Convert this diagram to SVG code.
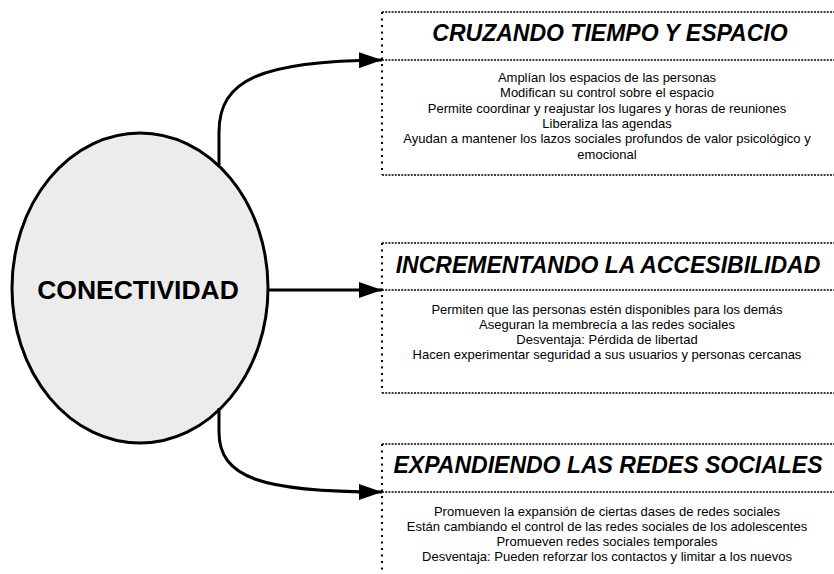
<svg xmlns="http://www.w3.org/2000/svg" width="834" height="574" viewBox="0 0 834 574">
<defs>
<marker id="ah" markerWidth="23" markerHeight="16" refX="23" refY="8" markerUnits="userSpaceOnUse" orient="auto">
<path d="M0,0 L23,8 L0,16 Z" fill="#000"/>
</marker>
<style>
.h{stroke:#000;stroke-width:1.6;stroke-dasharray:2 1.2;fill:none}
.v{stroke:#000;stroke-width:2;stroke-dasharray:2 4.5;fill:none}
.t{font-family:"Liberation Sans",Arial,sans-serif;font-size:23px;font-weight:bold;font-style:italic;text-anchor:middle;fill:#000}
.b{font-family:"Liberation Sans",Arial,sans-serif;font-size:13px;text-anchor:middle;fill:#000}
.c{stroke:#000;stroke-width:3;fill:none}
</style>
</defs>
<rect width="834" height="574" fill="#fff"/>
<g id="conectividad">
<ellipse cx="140" cy="288" rx="128" ry="155" fill="#ececec" stroke="#000" stroke-width="3"/>
<text x="138" y="299" font-family="'Liberation Sans',Arial,sans-serif" font-size="26.5" font-weight="bold" text-anchor="middle">CONECTIVIDAD</text>
</g>
<g id="box1">
<line class="h" x1="382" y1="12" x2="860" y2="12"/>
<line class="h" x1="382" y1="60" x2="860" y2="60"/>
<line class="h" x1="382" y1="175" x2="860" y2="175"/>
<line class="v" x1="382" y1="12" x2="382" y2="175"/>
<text class="t" x="610" y="41">CRUZANDO TIEMPO Y ESPACIO</text>
<text class="b" x="607" y="82">Amplían los espacios de las personas</text>
<text class="b" x="607" y="97">Modifican su control sobre el espacio</text>
<text class="b" x="607" y="113">Permite coordinar y reajustar los lugares y horas de reuniones</text>
<text class="b" x="607" y="128">Liberaliza las agendas</text>
<text class="b" x="607" y="143">Ayudan a mantener los lazos sociales profundos de valor psicológico y</text>
<text class="b" x="607" y="159">emocional</text>
</g>
<g id="box2">
<line class="h" x1="382" y1="243" x2="860" y2="243"/>
<line class="h" x1="382" y1="290" x2="860" y2="290"/>
<line class="h" x1="382" y1="393" x2="860" y2="393"/>
<line class="v" x1="382" y1="243" x2="382" y2="393"/>
<text class="t" x="608" y="273">INCREMENTANDO LA ACCESIBILIDAD</text>
<text class="b" x="607" y="314">Permiten que las personas estén disponibles para los demás</text>
<text class="b" x="607" y="329">Aseguran la membrecía a las redes sociales</text>
<text class="b" x="607" y="344">Desventaja: Pérdida de libertad</text>
<text class="b" x="607" y="359">Hacen experimentar seguridad a sus usuarios y personas cercanas</text>
</g>
<g id="box3">
<line class="h" x1="382" y1="444" x2="860" y2="444"/>
<line class="h" x1="382" y1="492" x2="860" y2="492"/>
<line class="v" x1="382" y1="444" x2="382" y2="600"/>
<text class="t" x="608" y="473">EXPANDIENDO LAS REDES SOCIALES</text>
<text class="b" x="607" y="516">Promueven la expansión de ciertas dases de redes sociales</text>
<text class="b" x="607" y="531">Están cambiando el control de las redes sociales de los adolescentes</text>
<text class="b" x="607" y="546">Promueven redes sociales temporales</text>
<text class="b" x="607" y="561">Desventaja: Pueden reforzar los contactos y limitar a los nuevos</text>
</g>
<g id="connectors">
<path class="c" d="M219,165 L219,132 C219,80 260,61 382,60" marker-end="url(#ah)"/>
<path class="c" d="M268,290 L382,290" marker-end="url(#ah)"/>
<path class="c" d="M219,408 L219,432 C219,478 262,492 382,492" marker-end="url(#ah)"/>
</g>
</svg>
